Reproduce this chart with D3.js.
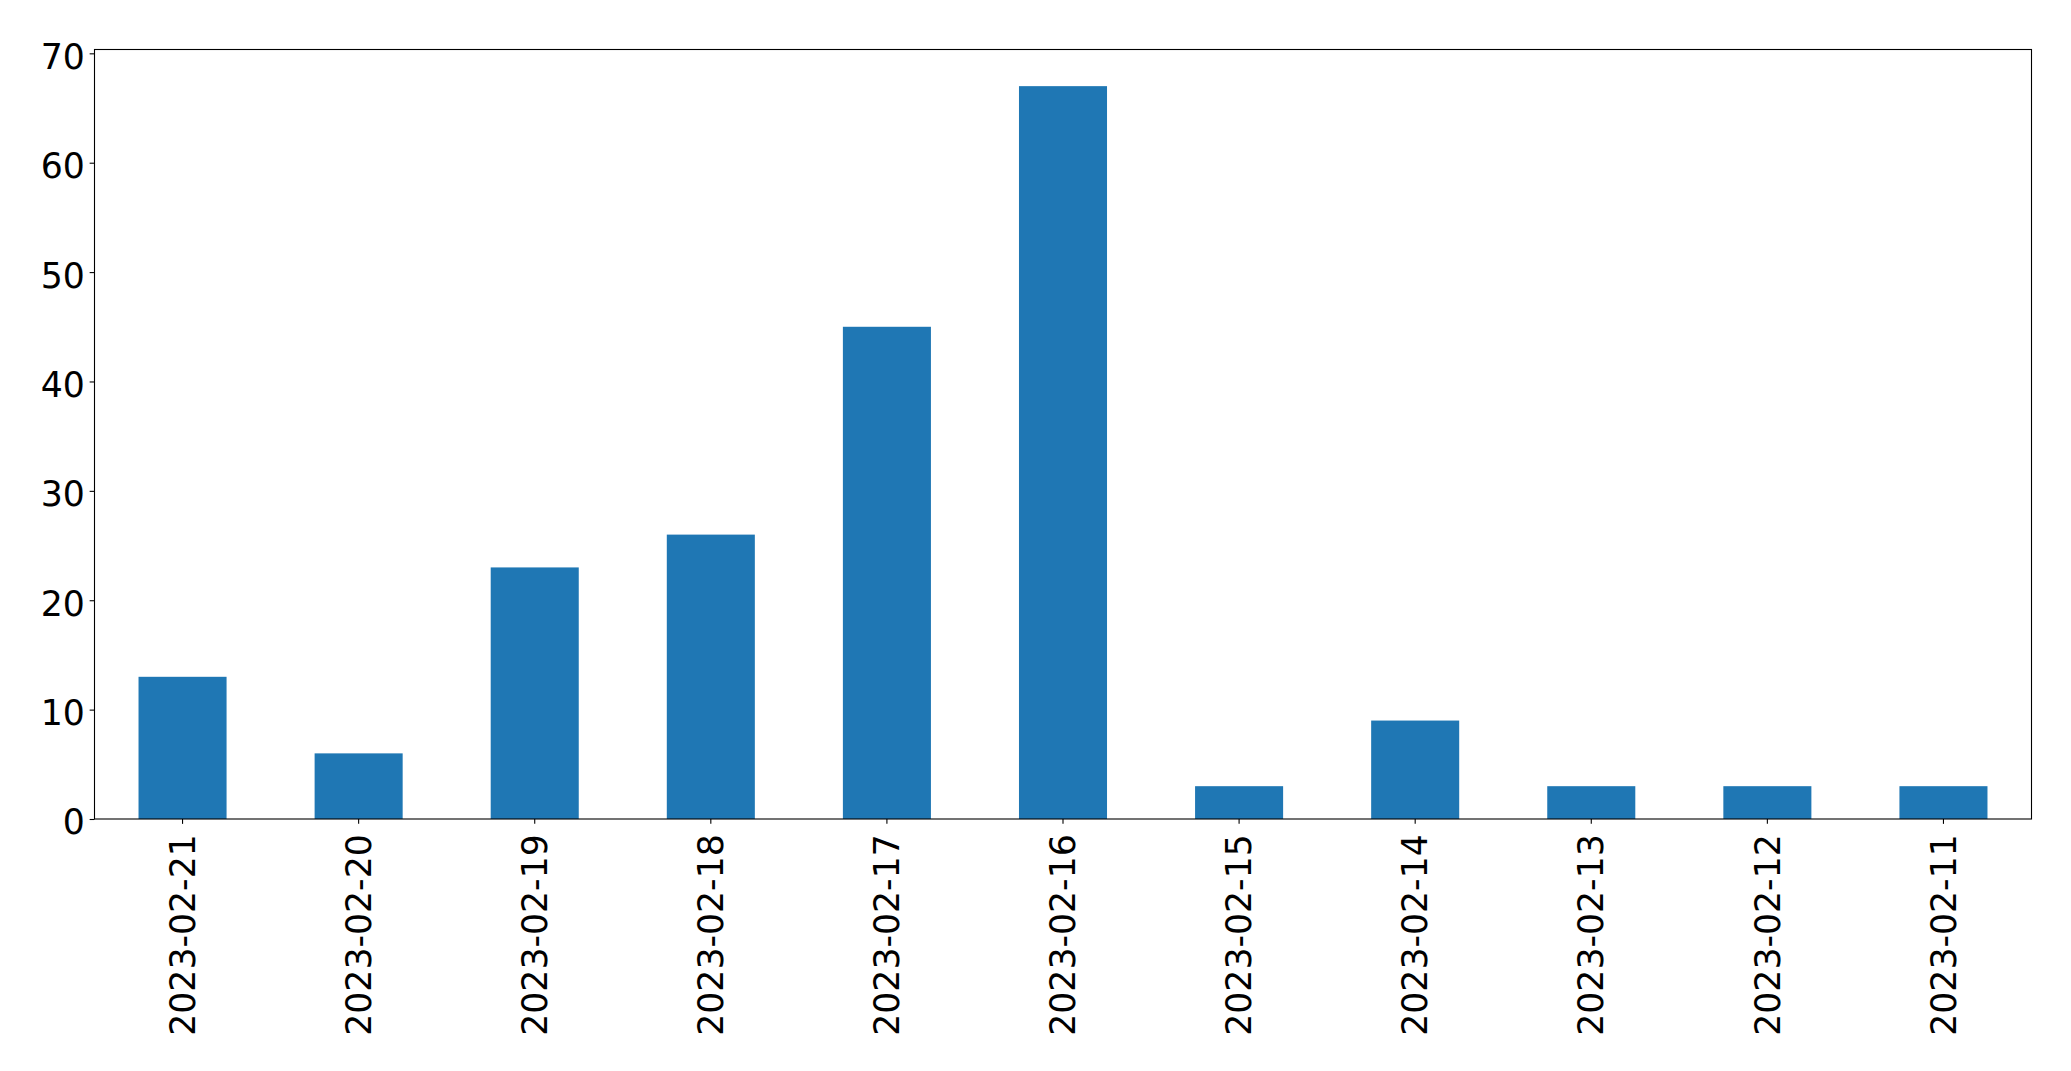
<!DOCTYPE html>
<html>
<head>
<meta charset="utf-8">
<script src="https://cdn.jsdelivr.net/npm/d3@7"></script>
<style>
  html, body { margin: 0; padding: 0; background: #fff; }
  svg { display: block; }
</style>
</head>
<body>
<script>
const categories = ["2023-02-21","2023-02-20","2023-02-19","2023-02-18","2023-02-17","2023-02-16","2023-02-15","2023-02-14","2023-02-13","2023-02-12","2023-02-11"];
const values = [13, 6, 23, 26, 45, 67, 3, 9, 3, 3, 3];
const yTicks = [0, 10, 20, 30, 40, 50, 60, 70];

const W = 2071, H = 1071;
const margin = { left: 94.5, top: 49.5, right: W - 2031.5, bottom: H - 819 };
const iw = W - margin.left - margin.right;
const ih = H - margin.top - margin.bottom;

const svg = d3.select("body").append("svg").attr("width", W).attr("height", H);
const g = svg.append("g").attr("transform", `translate(${margin.left},${margin.top})`);

const x = d3.scaleBand().domain(categories).range([0, iw]).paddingInner(0.5).paddingOuter(0.25);
const y = d3.scaleLinear().domain([0, d3.max(values) * 1.05]).range([ih, 0]);

g.selectAll("rect.bar").data(values).enter().append("rect")
  .attr("class", "bar")
  .attr("x", (d, i) => x(categories[i]))
  .attr("width", x.bandwidth())
  .attr("y", d => y(d))
  .attr("height", d => ih - y(d))
  .attr("fill", "#1f77b4");

const fontSize = 34.7;
const font = "'DejaVu Sans', sans-serif";

const yAxis = g.append("g").call(d3.axisLeft(y).tickValues(yTicks).tickSize(4.86).tickPadding(4.86).tickFormat(d3.format("d")));
yAxis.select(".domain").remove();
yAxis.selectAll("line").attr("stroke", "#000").attr("stroke-width", 1.1);
yAxis.selectAll("text").attr("font-family", font).attr("font-size", fontSize).attr("fill", "#000")
  .attr("dy", "0.43em");

const xAxis = g.append("g").attr("transform", `translate(0,${ih})`).call(d3.axisBottom(x).tickSize(4.86).tickPadding(4.86));
xAxis.select(".domain").remove();
xAxis.selectAll("line").attr("stroke", "#000").attr("stroke-width", 1.1);
xAxis.selectAll("text")
  .attr("font-family", font).attr("font-size", fontSize).attr("fill", "#000")
  .attr("transform", "rotate(-90)")
  .attr("x", -(4.86 + 4.86 + 5.5))
  .attr("y", 0)
  .attr("dy", "0.35em")
  .attr("text-anchor", "end");

g.append("rect").attr("x", 0).attr("y", 0).attr("width", iw).attr("height", ih)
  .attr("fill", "none").attr("stroke", "#000").attr("stroke-width", 1.1);
</script>
</body>
</html>
